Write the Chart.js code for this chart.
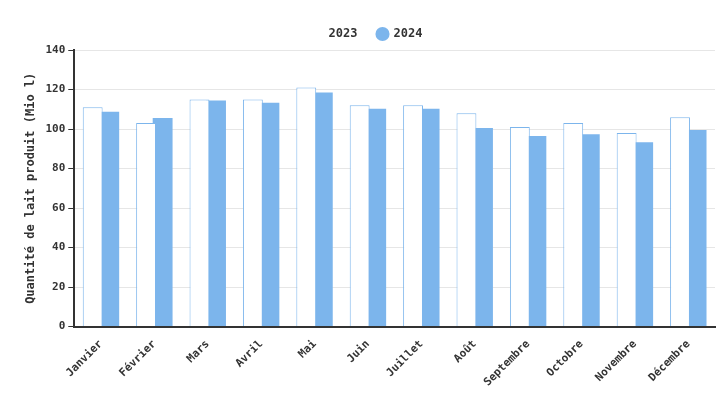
<!DOCTYPE html>
<html><head><meta charset="utf-8">
<script src="https://cdn.jsdelivr.net/npm/chart.js@4"></script>
<style>body{margin:0;background:#fff}#w{width:725px;height:400px}</style>
</head><body><div id="w"><canvas id="c"></canvas></div>
<script>
const categories=["Janvier","Février","Mars","Avril","Mai","Juin","Juillet","Août","Septembre","Octobre","Novembre","Décembre"];
const values2023=[111,103,115,115,121,112,112,108,101,103,98,106];
const values2024=[108.7,105.6,114.4,113.3,118.5,110.3,110.3,100.5,96.4,97.4,93.3,99.5];
const yTicks=[0,20,40,60,80,100,120,140];
const F="'DejaVu Sans Mono', monospace";
Chart.defaults.font.family=F;Chart.defaults.font.weight='bold';Chart.defaults.color='#333';
new Chart(document.getElementById('c'),{type:'bar',
data:{labels:categories,datasets:[
{label:'2023',data:values2023,backgroundColor:'#fff',borderColor:'#7cb5ec',borderWidth:1,categoryPercentage:0.62,barPercentage:1.2},
{label:'2024',data:values2024,backgroundColor:'#7cb5ec',borderColor:'#7cb5ec',borderWidth:0,categoryPercentage:0.62,barPercentage:1.2}]},
options:{responsive:true,maintainAspectRatio:false,animation:false,
layout:{padding:{left:20,right:10,top:8,bottom:8}},
plugins:{legend:{labels:{usePointStyle:true,pointStyle:'circle',boxWidth:10,boxHeight:10,padding:20,font:{size:12,weight:'bold'},color:'#333',
  generateLabels(ch){const l=Chart.defaults.plugins.legend.labels.generateLabels(ch);l.forEach((x,i)=>{if(i===0){x.strokeStyle='#fff';x.fillStyle='#fff';}});return l;}}},tooltip:{enabled:false}},
scales:{
x:{grid:{display:false},border:{color:'#333',width:2},ticks:{maxRotation:45,minRotation:45,font:{size:11}}},
y:{min:0,max:140,afterBuildTicks(a){a.ticks=yTicks.map(v=>({value:v}));},
  grid:{color:'#e6e6e6',tickColor:'#333',tickLength:6},border:{color:'#333',width:2},
  ticks:{font:{size:11}},
  title:{display:true,text:'Quantité de lait produit (Mio l)',font:{size:12,weight:'bold'}}}}}});
</script></body></html>
